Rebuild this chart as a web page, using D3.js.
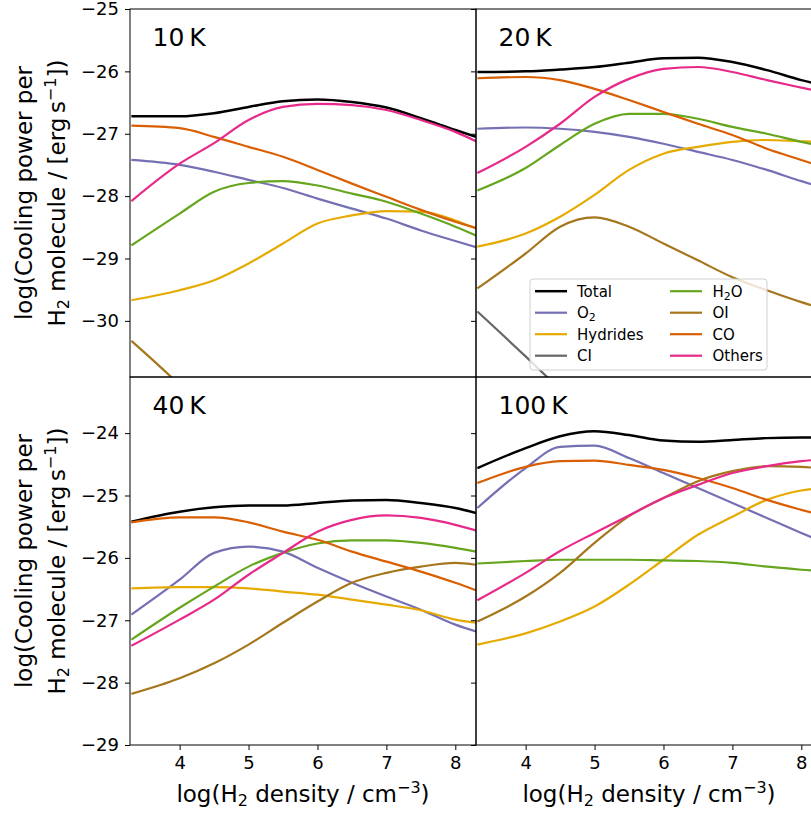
<!DOCTYPE html>
<html>
<head>
<meta charset="utf-8">
<script src="https://cdn.jsdelivr.net/npm/d3@7"></script>
<style>
  body { margin: 0; background: #fff; }
  svg { font-family: "DejaVu Sans", sans-serif; }
</style>
</head>
<body>
<div id="app"></div>
<script>
// log(H2 density) sample points
const density = [3.3, 4, 4.5, 5, 5.5, 6, 6.5, 7, 7.5, 8, 8.3];
const temps = ["10\u2009K", "20\u2009K", "40\u2009K", "100\u2009K"];
const species = ["Total", "O2", "Hydrides", "CI", "H2O", "OI", "CO", "Others"];

// one row per temperature (10, 20, 40, 100 K)
const total = [
  [-26.72, -26.72, -26.67, -26.57, -26.48, -26.45, -26.49, -26.58, -26.75, -26.94, -27.05],
  [-26.01, -26.00, -25.97, -25.93, -25.86, -25.79, -25.78, -25.85, -25.98, -26.14, -26.22],
  [-25.42, -25.26, -25.19, -25.16, -25.16, -25.12, -25.08, -25.07, -25.12, -25.20, -25.28],
  [-24.56, -24.24, -24.05, -23.97, -24.03, -24.12, -24.14, -24.11, -24.08, -24.07, -24.07]
];
const o2 = [
  [-27.42, -27.50, -27.61, -27.74, -27.87, -28.04, -28.20, -28.36, -28.55, -28.72, -28.82],
  [-26.92, -26.90, -26.92, -26.97, -27.05, -27.16, -27.29, -27.42, -27.58, -27.76, -27.86],
  [-26.91, -26.35, -25.92, -25.82, -25.90, -26.16, -26.40, -26.62, -26.83, -27.07, -27.18],
  [-25.20, -24.56, -24.22, -24.20, -24.40, -24.64, -24.88, -25.12, -25.36, -25.60, -25.74]
];
const hydrides = [
  [-29.67, -29.51, -29.35, -29.08, -28.76, -28.44, -28.31, -28.24, -28.25, -28.39, -28.52],
  [-28.81, -28.60, -28.33, -27.98, -27.58, -27.32, -27.21, -27.13, -27.10, -27.12, -27.13],
  [-26.49, -26.47, -26.47, -26.49, -26.54, -26.59, -26.67, -26.75, -26.84, -26.99, -27.04],
  [-27.39, -27.21, -27.02, -26.78, -26.43, -26.03, -25.63, -25.34, -25.07, -24.92, -24.88]
];
const ci = [
  [null, null, null, null, null, null, null, null, null, null, null],
  [-29.85, -30.57, -31.10, null, null, null, null, null, null, null, null],
  [null, null, null, null, null, null, null, null, null, null, null],
  [null, null, null, null, null, null, null, null, null, null, null]
];
const h2o = [
  [-28.79, -28.28, -27.93, -27.79, -27.76, -27.83, -27.96, -28.09, -28.28, -28.49, -28.63],
  [-27.91, -27.55, -27.18, -26.84, -26.68, -26.68, -26.76, -26.89, -27.00, -27.13, -27.20],
  [-27.31, -26.80, -26.46, -26.14, -25.92, -25.77, -25.72, -25.72, -25.76, -25.84, -25.90],
  [-26.09, -26.05, -26.03, -26.03, -26.03, -26.04, -26.05, -26.08, -26.14, -26.19, -26.21]
];
const oi = [
  [-30.32, -31.03, -31.60, null, null, null, null, null, null, null, null],
  [-29.48, -28.92, -28.49, -28.34, -28.49, -28.76, -29.03, -29.30, -29.51, -29.70, -29.80],
  [-28.18, -27.93, -27.69, -27.39, -27.04, -26.70, -26.40, -26.24, -26.14, -26.08, -26.11],
  [-27.02, -26.62, -26.24, -25.76, -25.33, -25.04, -24.77, -24.61, -24.53, -24.54, -24.57]
];
const co = [
  [-26.87, -26.91, -27.05, -27.21, -27.37, -27.58, -27.80, -28.01, -28.22, -28.41, -28.51],
  [-26.11, -26.09, -26.14, -26.28, -26.46, -26.65, -26.84, -27.02, -27.24, -27.42, -27.53],
  [-25.43, -25.35, -25.35, -25.43, -25.58, -25.71, -25.90, -26.06, -26.22, -26.40, -26.52],
  [-24.80, -24.54, -24.45, -24.44, -24.51, -24.59, -24.72, -24.88, -25.07, -25.23, -25.32]
];
const others = [
  [-28.08, -27.48, -27.15, -26.78, -26.57, -26.52, -26.54, -26.62, -26.78, -26.97, -27.12],
  [-27.63, -27.21, -26.84, -26.41, -26.12, -25.96, -25.93, -26.01, -26.14, -26.26, -26.33],
  [-27.41, -26.99, -26.67, -26.27, -25.92, -25.58, -25.39, -25.32, -25.36, -25.47, -25.56],
  [-26.68, -26.24, -25.89, -25.60, -25.32, -25.04, -24.83, -24.64, -24.53, -24.45, -24.42]
];
const yTicksTop = [-25, -26, -27, -28, -29, -30];
const yTicksBottom = [-24, -25, -26, -27, -28, -29];
const xTicks = [4, 5, 6, 7, 8];

const series = [total, o2, hydrides, ci, h2o, oi, co, others];
const colors = ["#000000", "#7570b3", "#e6ab02", "#666666", "#66a61e", "#a6761d", "#d95f02", "#e7298a"];

const width = 811, height = 814;
const panelW = 346, panelH = 368;
const marginLeft = 130, marginTop = 9;

const svg = d3.select("#app").append("svg")
  .attr("width", width).attr("height", height)
  .attr("viewBox", [0, 0, width, height]);

const panels = [
  {col: 0, row: 0}, {col: 1, row: 0}, {col: 0, row: 1}, {col: 1, row: 1}
];

panels.forEach((p, i) => {
  const x0 = marginLeft + p.col * panelW;
  const y0 = marginTop + p.row * panelH;
  const x = d3.scaleLinear().domain([3.28, 8.3]).range([x0, x0 + panelW]);
  const y = d3.scaleLinear()
    .domain(p.row === 0 ? [-30.9, -25] : [-29, -23.1])
    .range([y0 + panelH, y0]);

  const g = svg.append("g");
  g.append("clipPath").attr("id", "clip" + i)
    .append("rect").attr("x", x0).attr("y", y0).attr("width", panelW).attr("height", panelH);

  // curves
  const line = d3.line()
    .defined(d => d[1] !== null)
    .x(d => x(d[0]))
    .y(d => y(d[1]))
    .curve(d3.curveMonotoneX);

  const lines = g.append("g").attr("clip-path", `url(#clip${i})`).attr("fill", "none");
  series.forEach((s, k) => {
    lines.append("path")
      .datum(density.map((d, j) => [d, s[i][j]]))
      .attr("stroke", colors[k])
      .attr("stroke-width", k === 0 ? 2.5 : 2.2)
      .attr("stroke-linejoin", "round")
      .attr("d", line);
  });

  // y axis
  const yAxis = d3.axisLeft(y)
    .tickValues(p.row === 0 ? yTicksTop : yTicksBottom)
    .tickSize(5).tickPadding(6)
    .tickFormat(p.col === 0 ? d => d3.format("d")(d).replace("-", "\u2212") : "");
  g.append("g")
    .attr("transform", `translate(${x0},0)`)
    .call(yAxis)
    .call(a => a.select(".domain").remove())
    .call(a => a.selectAll("text").attr("font-size", 18).attr("font-family", "DejaVu Sans").attr("fill", "#000"));

  // x axis on bottom row only
  if (p.row === 1) {
    g.append("g")
      .attr("transform", `translate(0,${y0 + panelH})`)
      .call(d3.axisBottom(x).tickValues(xTicks).tickSize(5).tickPadding(6).tickFormat(d3.format("d")))
      .call(a => a.select(".domain").remove())
      .call(a => a.selectAll("text").attr("font-size", 18).attr("font-family", "DejaVu Sans").attr("fill", "#000"));

    const xl = g.append("text")
      .attr("x", x0 + panelW / 2).attr("y", 802)
      .attr("text-anchor", "middle").attr("font-size", 23);
    xl.append("tspan").text("log(H");
    xl.append("tspan").attr("font-size", 16).attr("dy", 4).text("2");
    xl.append("tspan").attr("dy", -4).text(" density / cm");
    xl.append("tspan").attr("font-size", 16).attr("dy", -9).text("\u22123");
    xl.append("tspan").attr("dy", 9).text(")");
  }

  // frame
  g.append("rect")
    .attr("x", x0).attr("y", y0).attr("width", panelW).attr("height", panelH)
    .attr("fill", "none").attr("stroke", "#000").attr("stroke-width", 1);

  // panel title
  g.append("text")
    .attr("x", x0 + 22.5).attr("y", y0 + 36.5)
    .attr("font-size", 25)
    .text(temps[i]);

  // y label on left column
  if (p.col === 0) {
    const cy = y0 + panelH / 2;
    const yl = g.append("text")
      .attr("transform", `translate(32,${cy}) rotate(-90)`)
      .attr("text-anchor", "middle").attr("font-size", 23);
    yl.append("tspan").attr("x", 0).attr("y", 0).text("log(Cooling power per");
    const l2 = g.append("text")
      .attr("transform", `translate(65,${cy}) rotate(-90)`)
      .attr("text-anchor", "middle").attr("font-size", 23);
    l2.append("tspan").text("H");
    l2.append("tspan").attr("font-size", 16).attr("dy", 4).text("2");
    l2.append("tspan").attr("dy", -4).text(" molecule / [erg\u2009s");
    l2.append("tspan").attr("font-size", 16).attr("dy", -9).text("\u22121");
    l2.append("tspan").attr("dy", 9).text("])");
  }
});

// legend in the 20 K panel
const legend = svg.append("g").attr("font-size", 15);
legend.append("rect")
  .attr("x", 530).attr("y", 279).attr("width", 237).attr("height", 91)
  .attr("rx", 3)
  .attr("fill", "#fff").attr("fill-opacity", 0.8)
  .attr("stroke", "#d0d0d0").attr("stroke-width", 1);

const legendCols = [[535, 577], [670, 712.5]];
species.forEach((name, k) => {
  const col = Math.floor(k / 4), row = k % 4;
  const by = 296.7 + row * 21.5;
  const [hx, tx] = legendCols[col];
  legend.append("line")
    .attr("x1", hx).attr("x2", hx + 32)
    .attr("y1", by - 5.5).attr("y2", by - 5.5)
    .attr("stroke", colors[k]).attr("stroke-width", k === 0 ? 2.5 : 2.2);
  const t = legend.append("text").attr("x", tx).attr("y", by);
  if (name === "O2") {
    t.append("tspan").text("O");
    t.append("tspan").attr("font-size", 11).attr("dy", 3).text("2");
  } else if (name === "H2O") {
    t.append("tspan").text("H");
    t.append("tspan").attr("font-size", 11).attr("dy", 3).text("2");
    t.append("tspan").attr("dy", -3).text("O");
  } else {
    t.text(name);
  }
});
</script>
</body>
</html>
